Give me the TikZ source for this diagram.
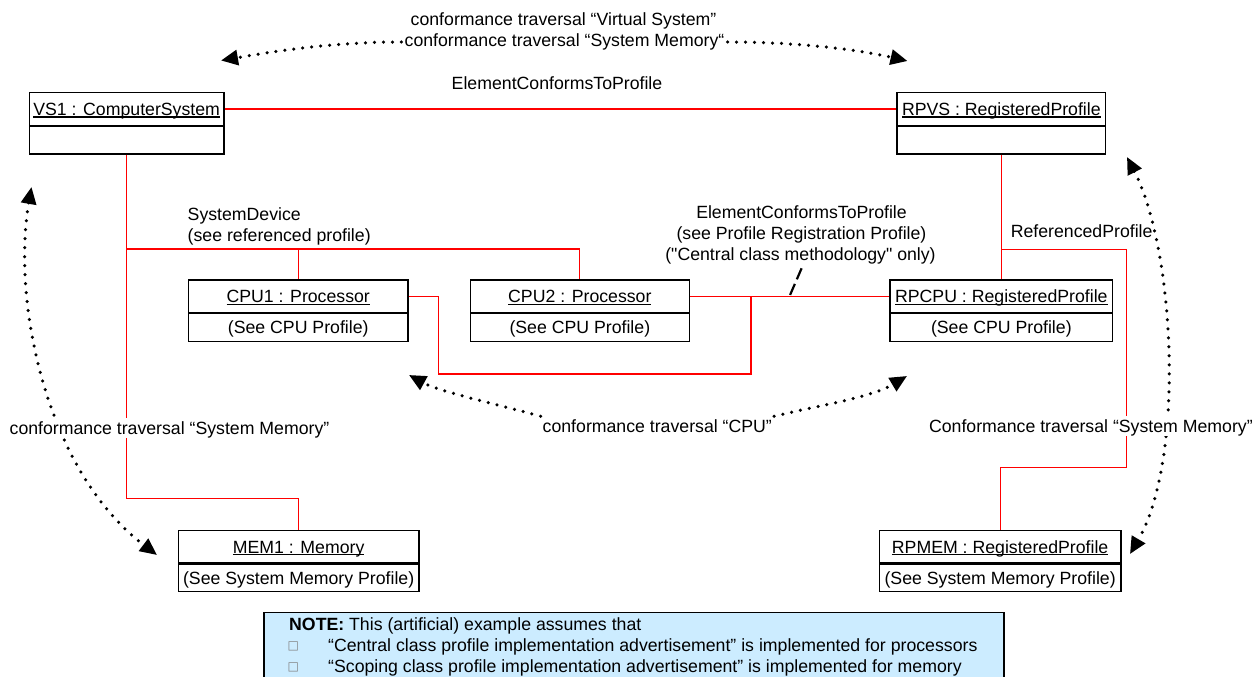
\documentclass[tikz,border=0pt]{standalone}
\usepackage{fontspec}
\setmainfont{Liberation Sans}[Ligatures=TeXOff]
\newfontfamily\symfont{DejaVu Sans}
\usetikzlibrary{arrows.meta}
\definecolor{notefill}{HTML}{CCECFF}
\definecolor{assocred}{HTML}{FF0000}
\newcommand\myul[1]{\leavevmode\setbox0\hbox{#1}\rlap{\rule[-2.4pt]{\wd0}{1.2pt}}\box0}
\newcommand\dfont{\fontsize{17.7pt}{21pt}\selectfont}
\begin{document}
\begin{tikzpicture}[x=1pt,y=-1pt,
  lbl/.style={font=\dfont, inner sep=0pt, text height=14.5pt, text depth=2pt},
  wlbl/.style={lbl, fill=white, inner sep=2pt},
  head/.style={draw, line width=1.3pt, font=\dfont, inner sep=0pt, minimum height=32.5pt, text height=14.5pt, text depth=2pt},
  body/.style={draw, line width=1.3pt, font=\dfont, inner sep=0pt, minimum height=27.5pt, text height=14.5pt, text depth=2pt, anchor=north},
  assoc/.style={assocred, line width=1.1pt},
  trav/.style={line width=3.5pt, dash pattern=on 0pt off 9pt, line cap=round, -{Triangle[length=17pt,width=15pt]}},
  travb/.style={line width=3.5pt, dash pattern=on 0pt off 9pt, line cap=round, {Triangle[length=17pt,width=15pt]}-{Triangle[length=17pt,width=15pt]}},
]
\useasboundingbox (0,0) rectangle (1258,677);
\clip (0,0) rectangle (1258,677);

% ---------- objects ----------
\node[head, minimum width=194.7pt] (vs1h) at (126.65,108.95) {\myul{VS1 : ComputerSystem}};
\node[body, minimum width=194.7pt] (vs1b) at (vs1h.south) {};
\node[head, minimum width=208.7pt] (rpvsh) at (1001.35,108.95) {\myul{RPVS : RegisteredProfile}};
\node[body, minimum width=208.7pt] (rpvsb) at (rpvsh.south) {};

\node[head, minimum width=219.3pt] (cpu1h) at (298.25,296.25) {\myul{CPU1 : Processor}};
\node[body, minimum width=219.3pt] (cpu1b) at (cpu1h.south) {(See CPU Profile)};
\node[head, minimum width=218.9pt] (cpu2h) at (579.85,296.25) {\myul{CPU2 : Processor}};
\node[body, minimum width=218.9pt] (cpu2b) at (cpu2h.south) {(See CPU Profile)};
\node[head, minimum width=222.7pt] (rpcpuh) at (1001.35,296.25) {\myul{RPCPU : RegisteredProfile}};
\node[body, minimum width=222.7pt] (rpcpub) at (rpcpuh.south) {(See CPU Profile)};

\node[head, minimum width=240.7pt] (mem1h) at (298.65,546.75) {\myul{MEM1 : Memory}};
\node[body, minimum width=240.7pt] (mem1b) at (mem1h.south) {(See System Memory Profile)};
\node[head, minimum width=241.7pt] (rpmemh) at (1000.15,546.75) {\myul{RPMEM : RegisteredProfile}};
\node[body, minimum width=241.7pt] (rpmemb) at (rpmemh.south) {(See System Memory Profile)};

% ---------- associations ----------
\coordinate (sdj) at (126.65,249);
\coordinate (vsbend) at (126.65,498.7);
\coordinate (loopa) at (438.6,374);
\coordinate (cpuj) at (751,296.25);
\coordinate (rpj) at (1001.35,249.3);
\coordinate (rpbend) at (1126.4,467.7);

\draw[assoc] (vs1h.east) -- (rpvsh.west);
\draw[assoc] (vs1b.south) -- (vsbend) -| (mem1h.north);
\draw[assoc] (sdj) -| (cpu1h.north);
\draw[assoc] (sdj) -| (cpu2h.north);
\draw[assoc] (cpu1h.east) -| (loopa) -| (cpuj);
\draw[assoc] (cpu2h.east) -- (rpcpuh.west);
\draw[assoc] (rpvsb.south) -- (rpcpuh.north);
\draw[assoc] (rpj) -| (rpbend) -| (rpmemh.north);

% dashed tick from the ElementConformsToProfile label
\coordinate (ticka) at (801.6,268.3);
\coordinate (tickb) at (789.5,296.25);
\draw[line width=2.2pt, dash pattern=on 12pt off 5pt] (ticka) -- (tickb);

% ---------- labels ----------
\node[lbl] (top1) at (563.5,19) {conformance traversal “Virtual System”};
\node[lbl] (top2) at (564.5,40) {conformance traversal “System Memory“};
\node[lbl] (ectp) at (557,83) {ElementConformsToProfile};
\node[lbl, anchor=west] (sd1) at (187.5,214) {SystemDevice};
\node[lbl, anchor=west] (sd2) at (187.5,235.7) {(see referenced profile)};
\node[lbl] (ec1) at (801.5,212.3) {ElementConformsToProfile};
\node[lbl] (ec2) at (801.5,233.3) {(see Profile Registration Profile)};
\node[lbl] (ec3) at (800.5,254) {("Central class methodology" only)};
\node[lbl, anchor=west] (refp) at (1010.6,231.7) {ReferencedProfile};

% ---------- conformance traversals ----------
\coordinate (tl2) at (221,60.5);
\coordinate (tr2) at (907.5,61);
\draw[trav] ([xshift=-3pt,yshift=-2pt]top2.west) .. controls (330,42) and (270,52) .. (tl2);
\draw[trav] ([xshift=3pt,yshift=-2pt]top2.east) .. controls (800,42) and (860,50) .. (tr2);

\coordinate (la1) at (31.5,187);
\coordinate (la2) at (157,555);
\draw[travb] (la1) .. controls (12,300) and (45,470) .. (la2);
\coordinate (ra1) at (1127,157);
\coordinate (ra2) at (1130,554);
\draw[travb] (ra1) .. controls (1175,250) and (1185,460) .. (ra2);

\coordinate (cl2) at (409,375);
\coordinate (cr2) at (907,376);
\node[wlbl] (cpul) at (657.3,426.7) {conformance traversal “CPU”};
\draw[trav] (cpul.north west) .. controls (500,405) and (440,392) .. (cl2);
\draw[trav] (cpul.north east) .. controls (820,405) and (870,398) .. (cr2);

\node[wlbl] (lml) at (169.5,428) {conformance traversal “System Memory”};
\node[wlbl] (rml) at (1090.9,426) {Conformance traversal “System Memory”};

% ---------- note ----------
\node[draw, fill=notefill, line width=1.3pt, anchor=north west, minimum width=740pt, minimum height=90pt, inner sep=0pt] (note) at (263.3,611.7) {};
\node[lbl, anchor=west] (n1) at (289,624) {\textbf{NOTE:} This (artificial) example assumes that};
\node[lbl, anchor=west] (n2) at (328,645.5) {“Central class profile implementation advertisement” is implemented for processors};
\node[lbl, anchor=west] (n3) at (328,666) {“Scoping class profile implementation advertisement” is implemented for memory};
\node[inner sep=0pt, font=\symfont\fontsize{12pt}{12pt}\selectfont, text=gray] (b1) at (293.3,646.5) {□};
\node[inner sep=0pt, font=\symfont\fontsize{12pt}{12pt}\selectfont, text=gray] (b2) at (293.3,667) {□};
\end{tikzpicture}
\end{document}
